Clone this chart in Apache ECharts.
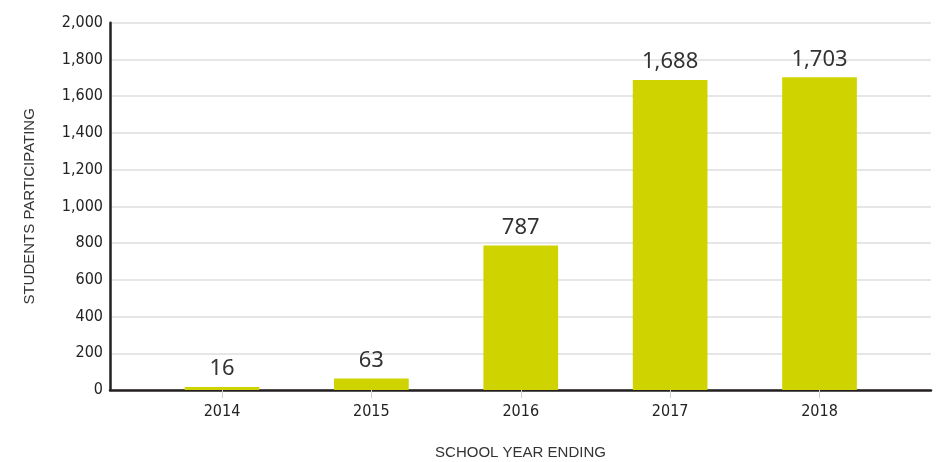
<!DOCTYPE html>
<html>
<head>
<meta charset="utf-8">
<script src="https://cdn.jsdelivr.net/npm/echarts@6/dist/echarts.min.js"></script>
<style>html,body{margin:0;padding:0;background:#fff}#c{width:939px;height:462px}</style>
</head>
<body>
<div id="c"></div>
<script>
const categories = ['2014', '2015', '2016', '2017', '2018'];
const students = [16, 63, 787, 1688, 1703];
const yMin = 0, yMax = 2000, yStep = 200;
const yTitle = 'STUDENTS PARTICIPATING';
const xTitle = 'SCHOOL YEAR ENDING';

const narrow = '"Liberation Sans Narrow", "DejaVu Sans Condensed", sans-serif';
const chart = echarts.init(document.getElementById('c'), null, {renderer: 'canvas'});
chart.setOption({
  animation: false,
  backgroundColor: '#fff',
  grid: [
    {left: 110, right: 8, top: 22.7, bottom: 72, containLabel: false, outerBoundsMode: 'none'},
    {left: 147.3, right: 44.8, top: 22.7, bottom: 72, containLabel: false, outerBoundsMode: 'none'}
  ],
  xAxis: [
    {gridIndex: 0, type: 'value', min: 0, max: 1,
     axisLine: {show: true, lineStyle: {color: '#231f20', width: 2.5}},
     axisTick: {show: false}, axisLabel: {show: false}, splitLine: {show: false},
     name: xTitle, nameLocation: 'middle', nameGap: 55,
     nameTextStyle: {fontFamily: '"Liberation Sans", Arial, sans-serif', fontSize: 15, color: '#333'}},
    {gridIndex: 1, type: 'category', data: categories,
     axisLine: {show: false},
     axisTick: {show: true, alignWithLabel: true, length: 8, lineStyle: {color: '#d0d0d0', width: 1}},
     axisLabel: {fontFamily: narrow, fontSize: 16, color: '#222', margin: 14},
     splitLine: {show: false}}
  ],
  yAxis: [
    {gridIndex: 0, type: 'value', min: yMin, max: yMax, interval: yStep,
     axisLine: {show: true, lineStyle: {color: '#231f20', width: 2.5}},
     axisTick: {show: false},
     axisLabel: {fontFamily: narrow, fontSize: 16, color: '#222', margin: 7},
     splitLine: {show: true, lineStyle: {color: '#dedede', width: 1.5}},
     name: yTitle, nameLocation: 'middle', nameGap: 73, nameRotate: 90,
     nameTextStyle: {fontFamily: '"Liberation Sans", Arial, sans-serif', fontSize: 15, color: '#333'}},
    {gridIndex: 1, type: 'value', min: yMin, max: yMax, interval: yStep,
     axisLine: {show: false}, axisTick: {show: false}, axisLabel: {show: false}, splitLine: {show: false}}
  ],
  series: [{
    type: 'bar', xAxisIndex: 1, yAxisIndex: 1, data: students,
    barWidth: '50%',
    itemStyle: {color: '#cfd400'},
    label: {show: true, position: 'top', distance: 7,
      fontFamily: '"Noto Sans", "Open Sans", sans-serif', fontSize: 22, color: '#333',
      formatter: p => p.value.toLocaleString('en-US')}
  }]
});
</script>
</body>
</html>
